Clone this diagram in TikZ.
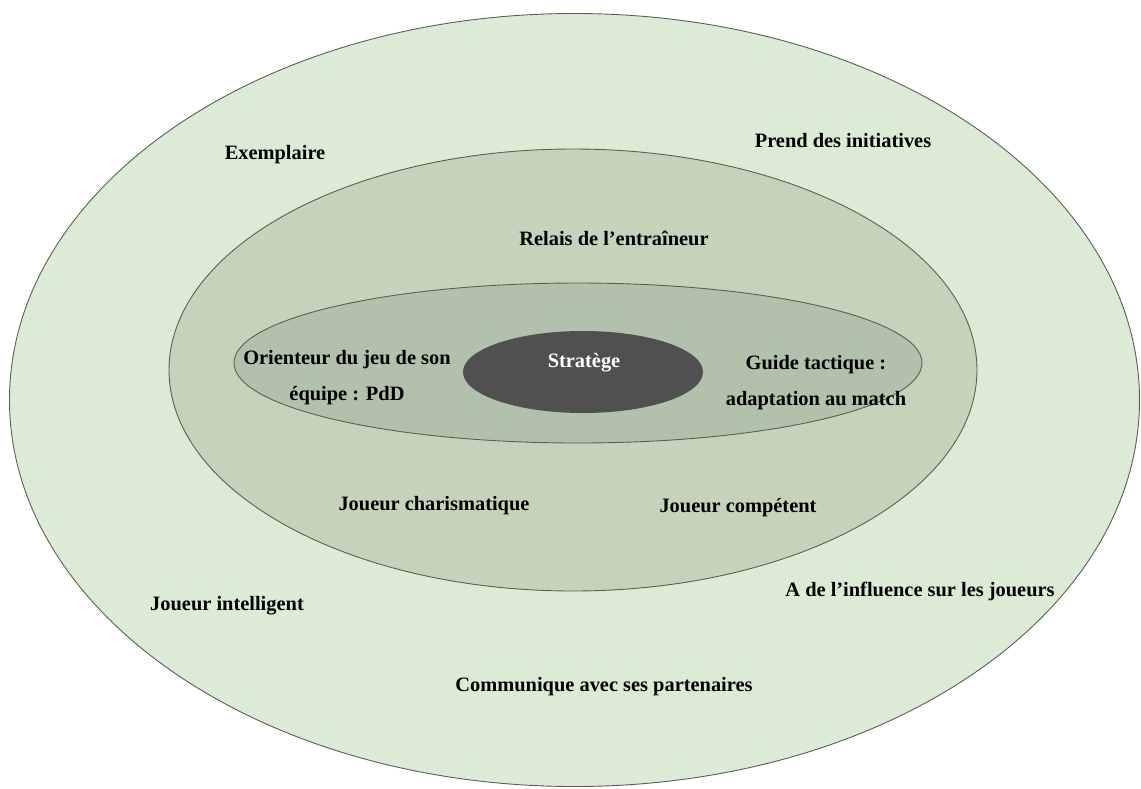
\documentclass[tikz,border=0pt]{standalone}
\usepackage{fontspec}
\setmainfont{Liberation Serif}
\definecolor{outerg}{HTML}{DCEBD5}
\definecolor{midg}{HTML}{C5D3BA}
\definecolor{innerg}{HTML}{B2C1AB}
\definecolor{darkg}{HTML}{505050}
\definecolor{edge}{HTML}{5A5F58}
\tikzset{
  ring/.style={draw=edge, line width=0.9pt},
  lbl/.style={font=\fontsize{20.4}{36}\selectfont\bfseries, text=black, inner sep=0pt, align=center},
}
\begin{document}
\begin{tikzpicture}[x=1pt,y=-1pt]
\useasboundingbox (0,0) rectangle (1141,788);
\fill[white] (0,0) rectangle (1141,788);
\draw[ring, fill=outerg] (574.5,400) ellipse [x radius=565pt, y radius=386.5pt];
\draw[ring, fill=midg] (573,370) ellipse [x radius=404pt, y radius=221pt];
\draw[ring, fill=innerg] (578,363) ellipse [x radius=344pt, y radius=80pt];
\fill[darkg] (583,372) ellipse [x radius=120pt, y radius=41pt];
\node[lbl] (exemplaire) at (275,155) {Exemplaire};
\node[lbl] (prend) at (843,141) {Prend des initiatives};
\node[lbl] (relais) at (614,238) {Relais de l’entraîneur};
\node[lbl] (orienteur) at (347,378) {Orienteur du jeu de son\\équipe : PdD};
\node[lbl, text=white] (stratege) at (584,363) {Stratège};
\node[lbl] (guide) at (816,383) {Guide tactique :\\adaptation au match};
\node[lbl] (charisma) at (434,506) {Joueur charismatique};
\node[lbl] (competent) at (738,508) {Joueur compétent};
\node[lbl] (intelligent) at (227,606) {Joueur intelligent};
\node[lbl] (influence) at (920,591) {A de l’influence sur les joueurs};
\node[lbl] (communique) at (604,687) {Communique avec ses partenaires};
\end{tikzpicture}
\end{document}
